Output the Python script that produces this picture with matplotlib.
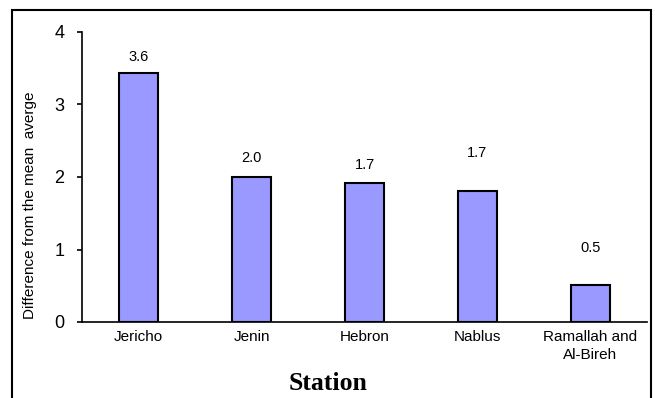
import matplotlib.pyplot as plt
from matplotlib.patches import Rectangle

stations = ["Jericho", "Jenin", "Hebron", "Nablus", "Ramallah and\nAl-Bireh"]
diff_values = [3.43, 2.0, 1.92, 1.81, 0.51]
value_labels = ["3.6", "2.0", "1.7", "1.7", "0.5"]
y_ticks = [0, 1, 2, 3, 4]

# label offsets above the bar tops (points)
label_offsets = [12, 14, 13, 27, 27]

plt.rcParams['font.family'] = ['Liberation Sans', 'DejaVu Sans']

fig = plt.figure(figsize=(6.55, 3.98), dpi=100)
ax = fig.add_axes([82 / 655, 1 - 322 / 398, 565 / 655, 290 / 398])

x = range(len(stations))
ax.bar(x, diff_values, width=0.35, color="#9999ff", edgecolor="black", linewidth=1.5)

for i, (v, lab) in enumerate(zip(diff_values, value_labels)):
    ax.annotate(lab, (i, v), xytext=(0, label_offsets[i]), textcoords="offset points",
                ha="center", va="center", fontsize=10.5)

ax.set_xlim(-0.5, len(stations) - 0.5)
ax.set_ylim(0, 4)
ax.set_yticks(y_ticks)
ax.set_yticklabels([str(t) for t in y_ticks], fontsize=13)
ax.set_xticks(list(x))
ax.set_xticklabels(stations, fontsize=11, linespacing=1.35)
ax.tick_params(axis="y", length=3.6, width=1.2, pad=9)
ax.tick_params(axis="x", length=0, pad=6)

ax.spines["top"].set_visible(False)
ax.spines["right"].set_visible(False)
ax.spines["left"].set_linewidth(1.2)
ax.spines["bottom"].set_linewidth(1.2)

fig.text(30 / 655, 1 - 205 / 398, "Difference from the mean  averge", rotation=90,
         ha="center", va="center", fontsize=11)
fig.text(328 / 655, 1 - 383 / 398, "Station", ha="center", va="center",
         fontsize=18.5, fontweight="bold", family=["Liberation Serif", "DejaVu Serif"])

# outer frame around the chart
frame = Rectangle((12 / 655, -0.1), (651 - 12) / 655, 1.1 - 10 / 398,
                  transform=fig.transFigure, fill=False, edgecolor="black",
                  linewidth=1.5, clip_on=False)
fig.patches.append(frame)

fig.savefig("out.png", dpi=100)
